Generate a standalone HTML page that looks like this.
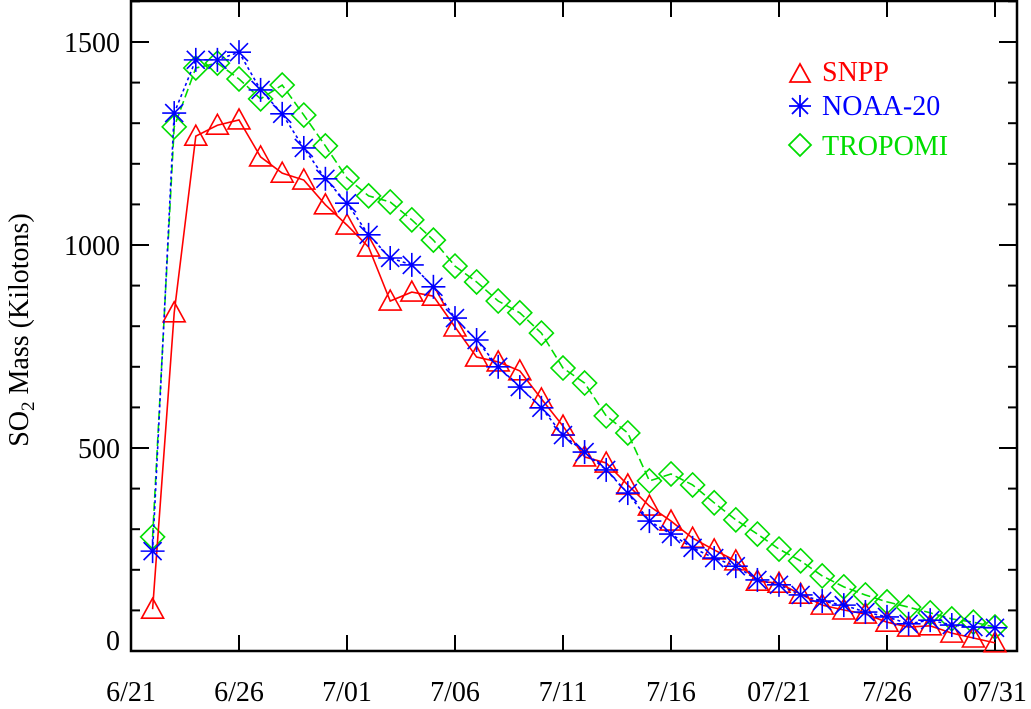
<!DOCTYPE html>
<html><head><meta charset="utf-8"><style>
body{margin:0;background:#fff}
svg text{font-family:"Liberation Serif",serif}
</style></head><body>
<svg id="chart" width="1031" height="704" xmlns="http://www.w3.org/2000/svg">
<g id="axes"></g>
<g id="series"></g>
<text transform="translate(28,330) rotate(-90)" text-anchor="middle" font-size="28" fill="#000">SO<tspan font-size="19" dy="6">2</tspan><tspan dy="-6"> Mass (Kilotons)</tspan></text>
<g>
<g><polygon points="790,82 800,64 810,82" fill="none" stroke="#f00" stroke-width="1.8"/><text x="822" y="81" font-size="28" fill="#f00">SNPP</text></g>
<g><g stroke="#00f" stroke-width="1.8"><line x1="789" y1="106" x2="811" y2="106"/><line x1="800" y1="95" x2="800" y2="117"/><line x1="792" y1="98" x2="808" y2="114"/><line x1="808" y1="98" x2="792" y2="114"/></g><text x="822" y="115" font-size="28" fill="#00f">NOAA-20</text></g>
<g><polygon points="800,134 811,145 800,156 789,145" fill="none" stroke="#0d0" stroke-width="1.8"/><text x="822" y="155" font-size="28" fill="#0d0">TROPOMI</text></g>
</g>
</svg>
<script>
const xTickLabels=["6/21","6/26","7/01","7/06","7/11","7/16","07/21","7/26","07/31"];
const yTickLabels=[0,500,1000,1500];
const snpp=[103,833,1268,1295,1308,1217,1177,1160,1099,1049,995,862,884,874,798,724,712,690,621,554,478,463,409,357,320,278,249,222,172,167,140,113,101,91,71,59,62,44,32,20];
const noaa20=[246,1325,1456,1456,1475,1382,1323,1239,1163,1103,1025,968,951,897,820,766,700,650,599,532,490,446,389,320,288,254,229,209,175,163,138,123,113,96,84,67,76,64,59,57];
const tropomi=[281,1291,1436,1448,1409,1360,1394,1320,1244,1165,1121,1106,1062,1012,948,909,862,833,783,697,660,579,537,419,436,409,365,323,288,251,222,185,158,138,121,108,94,79,71,59];
const X0=131,DX=21.6,Y0=651,KY=0.406;
const xs=d=>X0+DX*d;
const ys=v=>Y0-v*KY;
const NS="http://www.w3.org/2000/svg";
function mk(p,tag,at){const e=document.createElementNS(NS,tag);for(const k in at)e.setAttribute(k,at[k]);p.appendChild(e);return e;}
const ax=document.getElementById('axes');
const fr=mk(ax,'rect',{x:131,y:1,width:886,height:650,fill:'none',stroke:'#000','stroke-width':2.5});


for(let v=0;v<=1600;v+=100){const y=ys(v),L=v%500===0?18:9;
 mk(ax,'line',{x1:131,y1:y,x2:131+L,y2:y,stroke:'#000','stroke-width':2});
 mk(ax,'line',{x1:1017,y1:y,x2:1017-L,y2:y,stroke:'#000','stroke-width':2});}
yTickLabels.forEach(v=>{const t=mk(ax,'text',{x:120,y:(v===0?ys(v)-1:ys(v)+10),'text-anchor':'end','font-size':28});t.textContent=v;
 
 });
xTickLabels.forEach((l,i)=>{const x=xs(i*5);
 mk(ax,'line',{x1:x,y1:651,x2:x,y2:635,stroke:'#000','stroke-width':2});
 mk(ax,'line',{x1:x,y1:1,x2:x,y2:17,stroke:'#000','stroke-width':2});
 const t=mk(ax,'text',{x:x,y:701,'text-anchor':'middle','font-size':28});t.textContent=l;
 
 });
const sg=document.getElementById('series');
function draw(data,color,dash,marker,name){
 const g=mk(sg,'g',{});
 
 
 const pts=data.map((v,i)=>[xs(i+1),ys(v)]);
 mk(g,'polyline',{points:pts.map(p=>p.join(',')).join(' '),fill:'none',stroke:color,'stroke-width':1.6,'stroke-dasharray':dash});
 pts.forEach(([x,y])=>{
  if(marker==='tri')mk(g,'polygon',{points:`${x-11},${y+9} ${x},${y-11} ${x+11},${y+9}`,fill:'none',stroke:color,'stroke-width':1.6});
  else if(marker==='star'){for(const [a,b,c,d] of [[-12,0,12,0],[0,-12,0,12],[-9,-9,9,9],[9,-9,-9,9]])mk(g,'line',{x1:x+a,y1:y+b,x2:x+c,y2:y+d,stroke:color,'stroke-width':1.6});}
  else mk(g,'polygon',{points:`${x},${y-12} ${x+12},${y} ${x},${y+12} ${x-12},${y}`,fill:'none',stroke:color,'stroke-width':1.6});
 });
}
draw(tropomi,'#0d0','9,4','dia','series-tropomi');
draw(snpp,'#f00','none','tri','series-snpp');
draw(noaa20,'#00f','3,3','star','series-noaa20');
</script>
</body></html>
